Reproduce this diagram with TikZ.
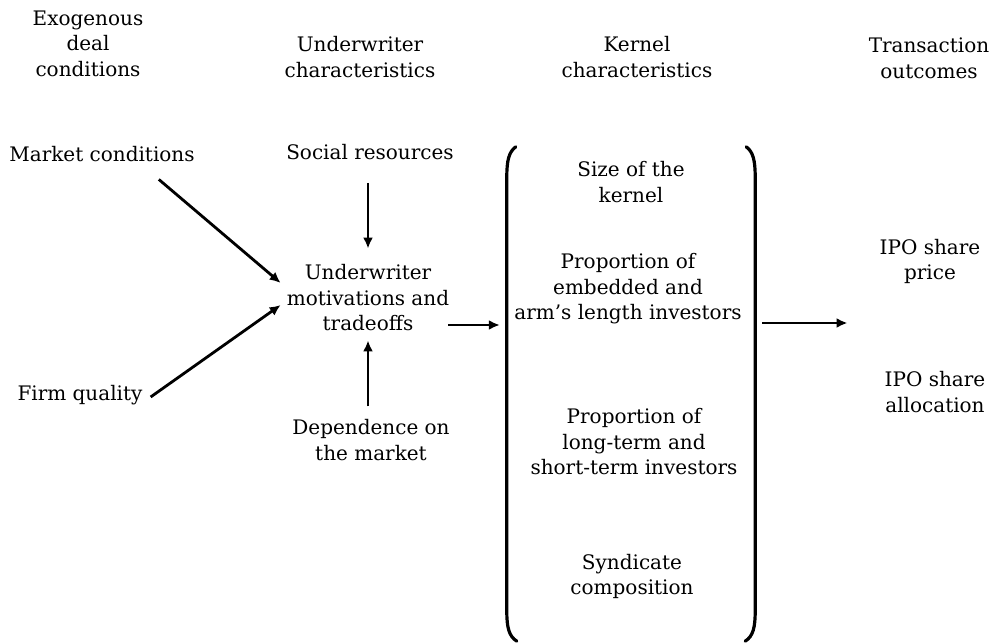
\documentclass[tikz,border=0pt]{standalone}
\usepackage{fontspec}
\setmainfont{DejaVu Serif}
\usetikzlibrary{arrows.meta,positioning,calc}

\begin{document}
\begin{tikzpicture}[x=1pt, y=-1pt,
					every node/.style={align=center, inner sep=2pt, font=\fontsize{20}{25.5}\selectfont},
					arr/.style={line width=2.8pt, -{Latex[length=11pt,width=10pt]}},
					bracket/.style={line width=3.2pt, line cap=round},
					kernelbox/.style={minimum width=248pt, minimum height=494pt, inner sep=0pt}]
	\useasboundingbox (0,0) rectangle (991,644);
	% column headings
	\node (hexo) at (88,43.5) {Exogenous\\deal\\conditions};
	\node (huw) at (360,57) {Underwriter\\characteristics};
	\node (hker) at (637,57) {Kernel\\characteristics};
	\node (hout) at (929,58.5) {Transaction\\outcomes};
	% deal conditions and underwriter
	\node (market) at (102,154.5) {Market conditions};
	\node (firm) at (80,395) {Firm quality};
	\node (social) at (370,152) {Social resources};
	\node (motiv) at (368,298) {Underwriter\\motivations and\\tradeoffs};
	\node (depend) at (371,440) {Dependence on\\the market};
	% kernel
	\node[kernelbox] (kernel) at (631,394) {};
	\node (size) at (631,182) {Size of the\\kernel};
	\node (embed) at (628,289) {Proportion of\\embedded and\\arm's length investors};
	\node (longt) at (634,442) {Proportion of\\long-term and\\short-term investors};
	\node (synd) at (632,576.5) {Syndicate\\composition};
	% outcomes
	\node (price) at (930,261.5) {IPO share\\price};
	\node (alloc) at (935,392) {IPO share\\allocation};
	% brackets round the kernel
	\draw[bracket] ([xshift=9pt]kernel.north west) .. controls ([xshift=2pt,yshift=-5pt]kernel.north west) and ([yshift=-14pt]kernel.north west) .. ([yshift=-30pt]kernel.north west)
		-- ([yshift=30pt]kernel.south west) .. controls ([yshift=14pt]kernel.south west) and ([xshift=2pt,yshift=5pt]kernel.south west) .. ([xshift=10pt]kernel.south west);
	\draw[bracket] ([xshift=-9pt]kernel.north east) .. controls ([xshift=-2pt,yshift=-5pt]kernel.north east) and ([yshift=-14pt]kernel.north east) .. ([yshift=-30pt]kernel.north east)
		-- ([yshift=30pt]kernel.south east) .. controls ([yshift=14pt]kernel.south east) and ([xshift=-2pt,yshift=5pt]kernel.south east) .. ([xshift=-10pt]kernel.south east);
	% connectors
	\draw[arr] ($(market.south east)+(-38,15)$) -- ($(motiv.west)+(-4,-15)$);
	\draw[arr] ($(firm.east)+(6,2)$) -- ($(motiv.west)+(-4,7)$);
	\draw[arr] ($(motiv.north |- social.south)+(0,21)$) -- ($(motiv.north)+(0,-14)$);
	\draw[arr] ($(motiv.south |- depend.north)+(0,-11)$) -- ($(motiv.south)+(0,7)$);
	\draw[arr] ($(motiv.east)+(-3,27)$) -- ($(kernel.west |- motiv.east)+(-7,27)$);
	\draw[arr] ($(kernel.east |- motiv.east)+(7,25)$) -- ($(price.west |- motiv.east)+(-30,25)$);
\end{tikzpicture}
\end{document}
